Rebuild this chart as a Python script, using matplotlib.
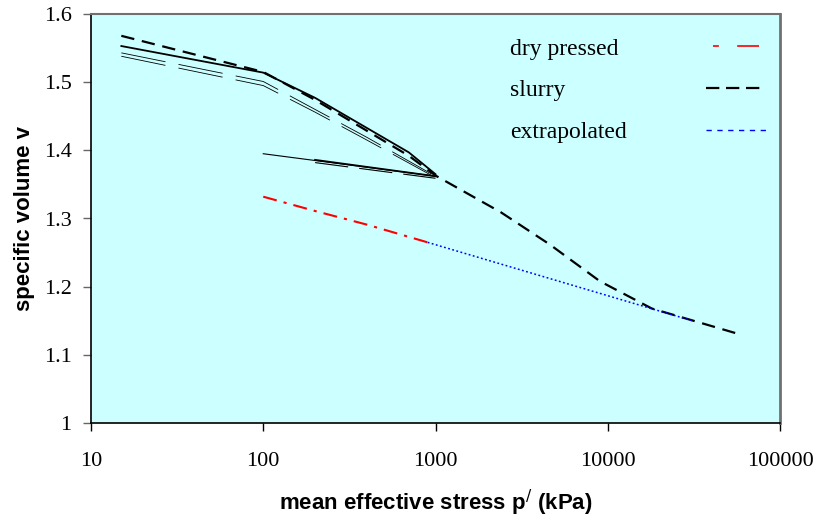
import matplotlib
matplotlib.use("Agg")
import matplotlib.pyplot as plt
from matplotlib.lines import Line2D
from matplotlib.legend_handler import HandlerLine2D

# slurry compression line (thick dashed)
slurry_p = [15, 100, 200, 700, 1000, 2400, 4600, 9000, 18000, 55000]
slurry_v = [1.568, 1.515, 1.474, 1.392, 1.363, 1.309, 1.262, 1.208, 1.168, 1.132]

# slurry loading (solid)
solid_p = [15, 100, 200, 700, 1000]
solid_v = [1.553, 1.514, 1.477, 1.397, 1.365]

# thin long-dashed pair
thin_p = [15, 100, 200, 400, 1000]
thin1_v = [1.543, 1.501, 1.460, 1.419, 1.362]
thin2_v = [1.538, 1.495, 1.456, 1.415, 1.360]

# unloading lines back from 1000 kPa
unload_thin_p = [100, 1000]
unload_thin_v = [1.395, 1.362]
unload_thick_p = [200, 1000]
unload_thick_v = [1.386, 1.362]
unload_dash_v = [1.382, 1.359]

# dry pressed and extrapolated
dry_p = [100, 200, 400, 900]
dry_v = [1.332, 1.311, 1.291, 1.265]
extra_p = [900, 31000]
extra_v = [1.265, 1.150]

legend_labels = ["dry pressed", "slurry", "extrapolated"]


class KeyOnRight(HandlerLine2D):
    # draws the legend key well to the right of the label text
    def __init__(self, shift, length, **kw):
        super().__init__(**kw)
        self.shift = shift
        self.length = length

    def create_artists(self, legend, orig_handle, xdescent, ydescent,
                       width, height, fontsize, trans):
        y = height / 2 - ydescent
        line = Line2D([self.shift, self.shift + self.length], [y, y])
        self.update_prop(line, orig_handle, legend)
        line.set_transform(trans)
        return [line]


fig = plt.figure(figsize=(8.15, 5.2), dpi=100)
ax = fig.add_axes([91 / 815, 1 - 423 / 520, 689 / 815, 409 / 520])
ax.set_facecolor("#CCFFFF")

ax.plot(thin_p, thin1_v, color="black", lw=0.6, ls=(0, (54, 16)))
ax.plot(thin_p, thin2_v, color="black", lw=0.6, ls=(0, (54, 16)))
ax.plot(solid_p, solid_v, color="black", lw=1.3)
ax.plot(slurry_p, slurry_v, color="black", lw=1.6, ls=(0, (6, 3.5)))
ax.plot(unload_thin_p, unload_thin_v, color="black", lw=0.8)
ax.plot(unload_thick_p, unload_thick_v, color="black", lw=1.3)
ax.plot(unload_thick_p, unload_dash_v, color="black", lw=0.8, ls=(0, (30, 10)))
ax.plot(dry_p, dry_v, color="red", lw=1.5, ls=(0, (6.7, 3.4, 1.5, 3.4)))
ax.plot(extra_p, extra_v, color="blue", lw=1.1, ls=(0, (1.2, 1.6)))

ax.set_xscale("log")
ax.set_xlim(10, 100000)
ax.set_ylim(1.0, 1.6)
ax.set_xticks([10, 100, 1000, 10000, 100000])
ax.set_xticklabels(["10", "100", "1000", "10000", "100000"])
ax.minorticks_off()
ax.set_yticks([1.0, 1.1, 1.2, 1.3, 1.4, 1.5, 1.6])
ax.set_yticklabels(["1", "1.1", "1.2", "1.3", "1.4", "1.5", "1.6"])

for lab in ax.get_xticklabels() + ax.get_yticklabels():
    lab.set_fontfamily("Liberation Serif")
    lab.set_fontsize(16)
ax.tick_params(axis="x", direction="out", length=6, width=1, color="black", pad=15)
ax.tick_params(axis="y", direction="out", length=6, width=1, color="#666666", pad=8)

ax.spines["left"].set_color("black")
ax.spines["bottom"].set_color("black")
ax.spines["left"].set_linewidth(1.2)
ax.spines["bottom"].set_linewidth(1.2)
ax.spines["top"].set_color("#707070")
ax.spines["right"].set_color("#707070")
ax.spines["top"].set_linewidth(1.5)
ax.spines["right"].set_linewidth(2)

ax.set_xlabel(r"mean effective stress p$^{/}$ (kPa)", fontsize=16, fontweight="bold",
              family="Liberation Sans", labelpad=12)
ax.set_ylabel("specific volume v", fontsize=16, fontweight="bold",
              family="Liberation Sans", labelpad=6)

h_dry = Line2D([], [], color="red", lw=1.2, ls=(0, (3.5, 11, 21, 0)))
h_slurry = Line2D([], [], color="black", lw=1.6, ls=(0, (6, 3)))
h_extra = Line2D([], [], color="#0000FF", lw=1.0, ls=(0, (3.8, 4)))
leg = ax.legend([h_dry, h_slurry, h_extra], legend_labels, loc="upper left",
                bbox_to_anchor=(0.608, 0.941), frameon=False,
                borderaxespad=0, borderpad=0,
                prop={"family": "Liberation Serif", "size": 17},
                handlelength=0, handletextpad=0, labelspacing=0.86,
                handler_map={h_dry: KeyOnRight(146, 33),
                             h_slurry: KeyOnRight(141, 41),
                             h_extra: KeyOnRight(141, 45)})

fig.savefig("out.png", dpi=100)
